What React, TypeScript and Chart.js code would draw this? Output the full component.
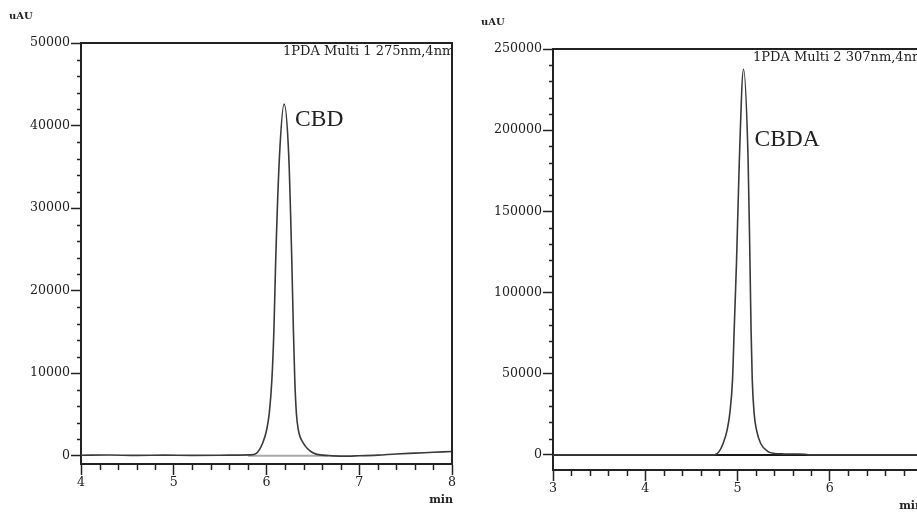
import React, { useEffect, useRef } from "react";
import { Chart, registerables } from "chart.js";

Chart.register(...registerables);

// ---- Left panel: CBD, PDA Multi 1 275nm ----
const cbdTimes = [4.0, 4.3, 4.6, 4.9, 5.2, 5.5, 5.7, 5.82, 5.894, 5.959, 6.002, 6.03, 6.058, 6.08, 6.1, 6.14, 6.19, 6.24, 6.272, 6.29, 6.305, 6.322, 6.343, 6.397, 6.505, 6.63, 6.8, 7.0, 7.2, 7.4, 7.6, 7.8, 8.0];
const cbdSignal = [60, 90, 40, 70, 50, 60, 80, 100, 330, 1540, 3150, 5170, 9200, 15270, 24000, 36300, 42600, 36300, 24000, 15270, 9200, 5170, 3150, 1540, 330, 50, -50, 0, 80, 220, 320, 420, 520];
const cbdBaseTimes = [5.8, 6.66];
const cbdBaseSignal = [0, 0];
const cbdXRange = [4, 8];
const cbdYRange = [-1000, 50000];
const cbdXTicks = [4, 5, 6, 7, 8];
const cbdYTicks = [0, 10000, 20000, 30000, 40000, 50000];
const cbdTitle = "1PDA Multi 1 275nm,4nm";
const cbdPeakName = "CBD";
const cbdPeakAt = [6.19, 40000];

// ---- Right panel: CBDA, PDA Multi 2 307nm ----
const cbdaTimes = [3.0, 3.5, 4.0, 4.5, 4.75, 4.8, 4.845, 4.888, 4.917, 4.946, 4.964, 4.99, 5.02, 5.065, 5.115, 5.135, 5.147, 5.16, 5.18, 5.206, 5.25, 5.332, 5.4, 5.5, 5.65, 5.73, 5.78, 6.0, 6.5, 7.0];
const cbdaSignal = [0, 0, 0, 0, 0, 2030, 7200, 15400, 25700, 46200, 77000, 120000, 181600, 237500, 181600, 120000, 77000, 46200, 25700, 15400, 7200, 2030, 900, 600, 550, 400, 0, 0, 0, 0];
const cbdaBaseTimes = [3, 7];
const cbdaBaseSignal = [0, 0];
const cbdaXRange = [3, 7];
const cbdaYRange = [-9300, 250000];
const cbdaXTicks = [3, 4, 5, 6, 7];
const cbdaYTicks = [0, 50000, 100000, 150000, 200000, 250000];
const cbdaTitle = "1PDA Multi 2 307nm,4nm";
const cbdaPeakName = "CBDA";
const cbdaPeakAt = [5.065, 190000];

const yUnit = "uAU";
const xUnit = "min";

const INK = "#222";
const TICK_FONT = { family: "DejaVu Serif", size: 12.6 };

type Panel = {
  times: number[];
  signal: number[];
  baseTimes: number[];
  baseSignal: number[];
  baseColor: string;
  xRange: number[];
  yRange: number[];
  xTicks: number[];
  yTicks: number[];
  title: string;
  peakName: string;
  peakAt: number[];
  width: number;
  height: number;
  yAxisWidth: number;
  xAxisHeight: number;
  padTop: number;
  padRight: number;
};

function makeDecor(p: Panel) {
  return {
    id: "decor",
    afterDraw(chart: any) {
      const { ctx, chartArea: a, scales } = chart;
      const xs = scales.x;
      const ys = scales.y;
      ctx.save();
      // frame (top + right)
      ctx.strokeStyle = INK;
      ctx.lineWidth = 2;
      ctx.beginPath();
      ctx.moveTo(a.left - 1, a.top);
      ctx.lineTo(a.right, a.top);
      ctx.lineTo(a.right, a.bottom + 1);
      ctx.stroke();

      // minor ticks (5 subdivisions between major ticks)
      ctx.lineWidth = 1.5;
      const xt = p.xTicks;
      for (let i = 0; i < xt.length - 1; i++) {
        for (let k = 1; k < 5; k++) {
          const v = xt[i] + (k * (xt[i + 1] - xt[i])) / 5;
          const px = Math.round(xs.getPixelForValue(v)) + 0.5;
          ctx.beginPath();
          ctx.moveTo(px, a.bottom);
          ctx.lineTo(px, a.bottom + 6);
          ctx.stroke();
        }
      }
      const yt = p.yTicks;
      for (let i = 0; i < yt.length - 1; i++) {
        for (let k = 1; k < 5; k++) {
          const v = yt[i] + (k * (yt[i + 1] - yt[i])) / 5;
          const py = Math.round(ys.getPixelForValue(v)) + 0.5;
          ctx.beginPath();
          ctx.moveTo(a.left, py);
          ctx.lineTo(a.left - 4, py);
          ctx.stroke();
        }
      }

      ctx.fillStyle = INK;
      // unit labels
      ctx.font = "bold 10px 'DejaVu Serif'";
      ctx.textAlign = "left";
      ctx.textBaseline = "middle";
      ctx.fillText(yUnit, a.left - 72, a.top - 26.5);
      ctx.font = "bold 11px 'DejaVu Serif'";
      ctx.textAlign = "right";
      ctx.fillText(xUnit, a.right + 1, a.bottom + 36);

      // peak name
      ctx.font = "23.5px 'Liberation Serif'";
      ctx.textAlign = "left";
      ctx.textBaseline = "alphabetic";
      ctx.fillText(p.peakName, xs.getPixelForValue(p.peakAt[0]) + 11, ys.getPixelForValue(p.peakAt[1]));

      // channel title, clipped to plot
      ctx.save();
      ctx.beginPath();
      ctx.rect(a.left, a.top, a.right - a.left - 1, a.bottom - a.top);
      ctx.clip();
      ctx.font = "13px 'DejaVu Serif'";
      ctx.textAlign = "left";
      ctx.textBaseline = "middle";
      ctx.fillText(p.title, a.right - 169, a.top + 9);
      ctx.restore();

      ctx.restore();
    },
  };
}

function ChromPanel({ p, left }: { p: Panel; left: number }) {
  const ref = useRef<HTMLCanvasElement | null>(null);
  useEffect(() => {
    if (!ref.current) return;
    const chart = new Chart(ref.current, {
      type: "line",
      data: {
        datasets: [
          {
            data: p.times.map((t, i) => ({ x: t, y: p.signal[i] })),
            borderColor: "#3a3a3a",
            borderWidth: 1.6,
            pointRadius: 0,
            cubicInterpolationMode: "monotone",
            fill: false,
          },
          {
            data: p.baseTimes.map((t, i) => ({ x: t, y: p.baseSignal[i] })),
            borderColor: p.baseColor,
            borderWidth: 2,
            pointRadius: 0,
            fill: false,
          },
        ],
      },
      options: {
        responsive: false,
        animation: false,
        devicePixelRatio: 1,
        layout: { padding: { top: p.padTop, right: p.padRight, left: 0, bottom: 0 } },
        plugins: { legend: { display: false }, tooltip: { enabled: false } },
        scales: {
          x: {
            type: "linear",
            min: p.xRange[0],
            max: p.xRange[1],
            afterBuildTicks: (s: any) => {
              s.ticks = p.xTicks.map((v) => ({ value: v }));
            },
            afterFit: (s: any) => {
              s.height = p.xAxisHeight;
            },
            border: { display: true, color: INK, width: 2 },
            grid: { display: true, drawOnChartArea: false, drawTicks: true, tickLength: 11, tickColor: INK, tickWidth: 1.5 },
            ticks: {
              autoSkip: false,
              maxRotation: 0,
              padding: 0,
              color: INK,
              font: TICK_FONT,
              callback: (v: any) => String(v),
            },
          },
          y: {
            type: "linear",
            min: p.yRange[0],
            max: p.yRange[1],
            afterBuildTicks: (s: any) => {
              s.ticks = p.yTicks.map((v) => ({ value: v }));
            },
            afterFit: (s: any) => {
              s.width = p.yAxisWidth;
            },
            border: { display: true, color: INK, width: 2 },
            grid: { display: true, drawOnChartArea: false, drawTicks: true, tickLength: 10, tickColor: INK, tickWidth: 1.5 },
            ticks: {
              autoSkip: false,
              padding: 1,
              color: INK,
              font: TICK_FONT,
              callback: (v: any) => String(v),
            },
          },
        },
      } as any,
      plugins: [makeDecor(p)],
    });
    return () => chart.destroy();
  }, []);
  return (
    <canvas
      ref={ref}
      width={p.width}
      height={p.height}
      style={{ position: "absolute", left, top: 0, width: p.width, height: p.height, display: "block" }}
    />
  );
}

const leftPanel: Panel = {
  times: cbdTimes,
  signal: cbdSignal,
  baseTimes: cbdBaseTimes,
  baseSignal: cbdBaseSignal,
  baseColor: "#a8a8a8",
  xRange: cbdXRange,
  yRange: cbdYRange,
  xTicks: cbdXTicks,
  yTicks: cbdYTicks,
  title: cbdTitle,
  peakName: cbdPeakName,
  peakAt: cbdPeakAt,
  width: 460,
  height: 513,
  yAxisWidth: 81,
  xAxisHeight: 49,
  padTop: 43,
  padRight: 8,
};

const rightPanel: Panel = {
  times: cbdaTimes,
  signal: cbdaSignal,
  baseTimes: cbdaBaseTimes,
  baseSignal: cbdaBaseSignal,
  baseColor: "#1a1a1a",
  xRange: cbdaXRange,
  yRange: cbdaYRange,
  xTicks: cbdaXTicks,
  yTicks: cbdaYTicks,
  title: cbdaTitle,
  peakName: cbdaPeakName,
  peakAt: cbdaPeakAt,
  width: 480,
  height: 513,
  yAxisWidth: 93,
  xAxisHeight: 43,
  padTop: 49,
  padRight: 18,
};

export default function App() {
  return (
    <div
      style={{
        position: "fixed",
        left: 0,
        top: 0,
        width: 917,
        height: 513,
        overflow: "hidden",
        background: "#fff",
      }}
    >
      <ChromPanel p={leftPanel} left={0} />
      <ChromPanel p={rightPanel} left={460} />
    </div>
  );
}
